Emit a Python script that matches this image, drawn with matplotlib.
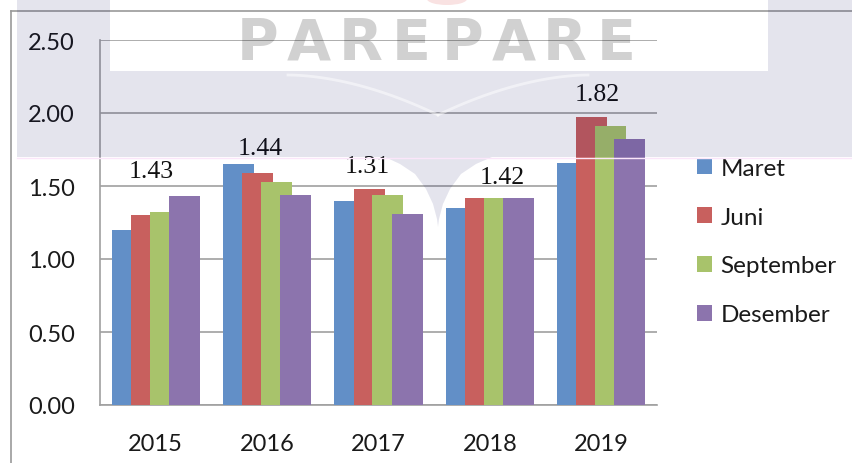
import matplotlib
matplotlib.use("Agg")
import matplotlib.pyplot as plt
import numpy as np
from matplotlib.patches import Rectangle, Polygon, Ellipse

# ---------------- data ----------------
years = ["2015", "2016", "2017", "2018", "2019"]
series_names = ["Maret", "Juni", "September", "Desember"]
maret = [1.20, 1.65, 1.40, 1.35, 1.66]
juni = [1.30, 1.59, 1.48, 1.42, 1.97]
september = [1.32, 1.53, 1.44, 1.42, 1.91]
desember = [1.43, 1.44, 1.31, 1.42, 1.82]
yticks = [0.0, 0.5, 1.0, 1.5, 2.0, 2.5]
ytick_labels = ["0.00", "0.50", "1.00", "1.50", "2.00", "2.50"]

# label placement (style/position only)
label_dx = [-0.04, -0.06, -0.10, 0.11, -0.04]
label_y = [1.60, 1.76, 1.64, 1.56, 2.13]

colors = ["#628FC7", "#C8605E", "#A8C36B", "#8C74AD"]
W, H = 853, 464

fig = plt.figure(figsize=(W / 100, H / 100), dpi=100)
fig.patch.set_facecolor("white")

def fx(px):
    return px / W

def fy(py):
    return 1 - py / H

ax = fig.add_axes([fx(100), fy(406), fx(657) - fx(100), fy(41) - fy(406)])
ax.set_facecolor("none")

x = np.arange(len(years))
offsets = [-0.256, -0.085, 0.085, 0.256]
bw = 0.278
for i, (vals, name) in enumerate(zip([maret, juni, september, desember], series_names)):
    ax.bar(x + offsets[i], vals, width=bw, color=colors[i], label=name, zorder=3 + i,
           linewidth=0)

for i, v in enumerate(desember):
    ax.text(x[i] + label_dx[i], label_y[i], f"{v:.2f}", ha="center", va="center",
            fontsize=18.5, family="Liberation Serif", color="#111111", zorder=10)

ax.set_xlim(-0.5, len(years) - 0.5)
ax.set_ylim(0, 2.5)
ax.set_yticks(yticks)
ax.set_yticklabels(ytick_labels)
ax.set_xticks(x)
ax.set_xticklabels(years)
ax.grid(axis="y", color="#A0A0A0", linewidth=1.2, zorder=0)
ax.set_axisbelow(True)
for s in ["top", "right"]:
    ax.spines[s].set_visible(False)
for s in ["left", "bottom"]:
    ax.spines[s].set_color("#A0A0A0")
    ax.spines[s].set_linewidth(1.2)
ax.tick_params(axis="both", length=0, labelsize=17, colors="#1a1a1a")
ax.tick_params(axis="y", pad=18)
ax.tick_params(axis="x", pad=20)
for lab in ax.get_xticklabels() + ax.get_yticklabels():
    lab.set_family("Lato")

leg = fig.legend(loc="center left", bbox_to_anchor=(fx(697), fy(242.5)),
                 frameon=False, handlelength=0.62, handleheight=0.62,
                 handletextpad=0.35, labelspacing=1.15, borderpad=0, borderaxespad=0,
                 prop={"family": "Lato", "size": 17.5})
for t in leg.get_texts():
    t.set_color("#1a1a1a")

# outer frame lines
fig.add_artist(plt.Line2D([fx(11), fx(11)], [0, fy(12)], color="#9A9A9A", lw=1.2,
                          transform=fig.transFigure))
fig.add_artist(plt.Line2D([fx(11), 1], [fy(12), fy(12)], color="#9A9A9A", lw=1.2,
                          transform=fig.transFigure))

# ---------------- watermark overlay (approximates multiply blend) ----------------
ov_col = (0.0, 0.0, 0.37)
ov_a = 0.106

def rect(x0, y0, x1, y1, **kw):
    r = Rectangle((fx(x0), fy(y1)), fx(x1) - fx(x0), fy(y0) - fy(y1),
                  transform=fig.transFigure, linewidth=0, **kw)
    fig.add_artist(r)
    r.set_zorder(50)
    return r

rect(17, 0, 110, 158, facecolor=ov_col, alpha=ov_a)
rect(768, 0, 853, 158, facecolor=ov_col, alpha=ov_a)
rect(110, 72, 768, 158, facecolor=ov_col, alpha=ov_a)

# shield tip below band
sh = [(385, 158), (400, 165), (415, 175), (426, 190), (433, 205), (437, 220), (438, 228),
      (439, 220), (443, 205), (450, 190), (461, 175), (476, 165), (492, 158)]
poly = Polygon([(fx(a), fy(b)) for a, b in sh], closed=True, transform=fig.transFigure,
               facecolor=ov_col, alpha=ov_a, linewidth=0, zorder=50)
fig.add_artist(poly)

# faint white V inside band (shield outline)
for side in (-1, 1):
    xs = np.linspace(0, 1, 30)
    px = 438 + side * (1 - xs) * 150
    py = 76 + (xs ** 1.8) * 40
    fig.add_artist(plt.Line2D([fx(p) for p in px], [fy(q) for q in py], color="white",
                              lw=2.0, alpha=0.5, transform=fig.transFigure, zorder=51))

# faint pink line at band edge
fig.add_artist(plt.Line2D([fx(17), 1], [fy(158.5), fy(158.5)], color="#FBE6FA", lw=1.0,
                          transform=fig.transFigure, zorder=51))

# pink logo top
el = Ellipse((fx(447), fy(0)), fx(40), 12 / H, transform=fig.transFigure,
             facecolor="#E06060", alpha=0.18, linewidth=0, zorder=51)
fig.add_artist(el)

# PAREPARE letters
word = "PAREPARE"
cxs = np.linspace(258, 616, len(word))
for ch, cx in zip(word, cxs):
    fig.text(fx(cx), fy(45), ch, ha="center", va="center", fontsize=41,
             fontweight="bold", family="DejaVu Sans", color="black", alpha=0.18,
             zorder=52)

fig.savefig("out.png", dpi=100)
